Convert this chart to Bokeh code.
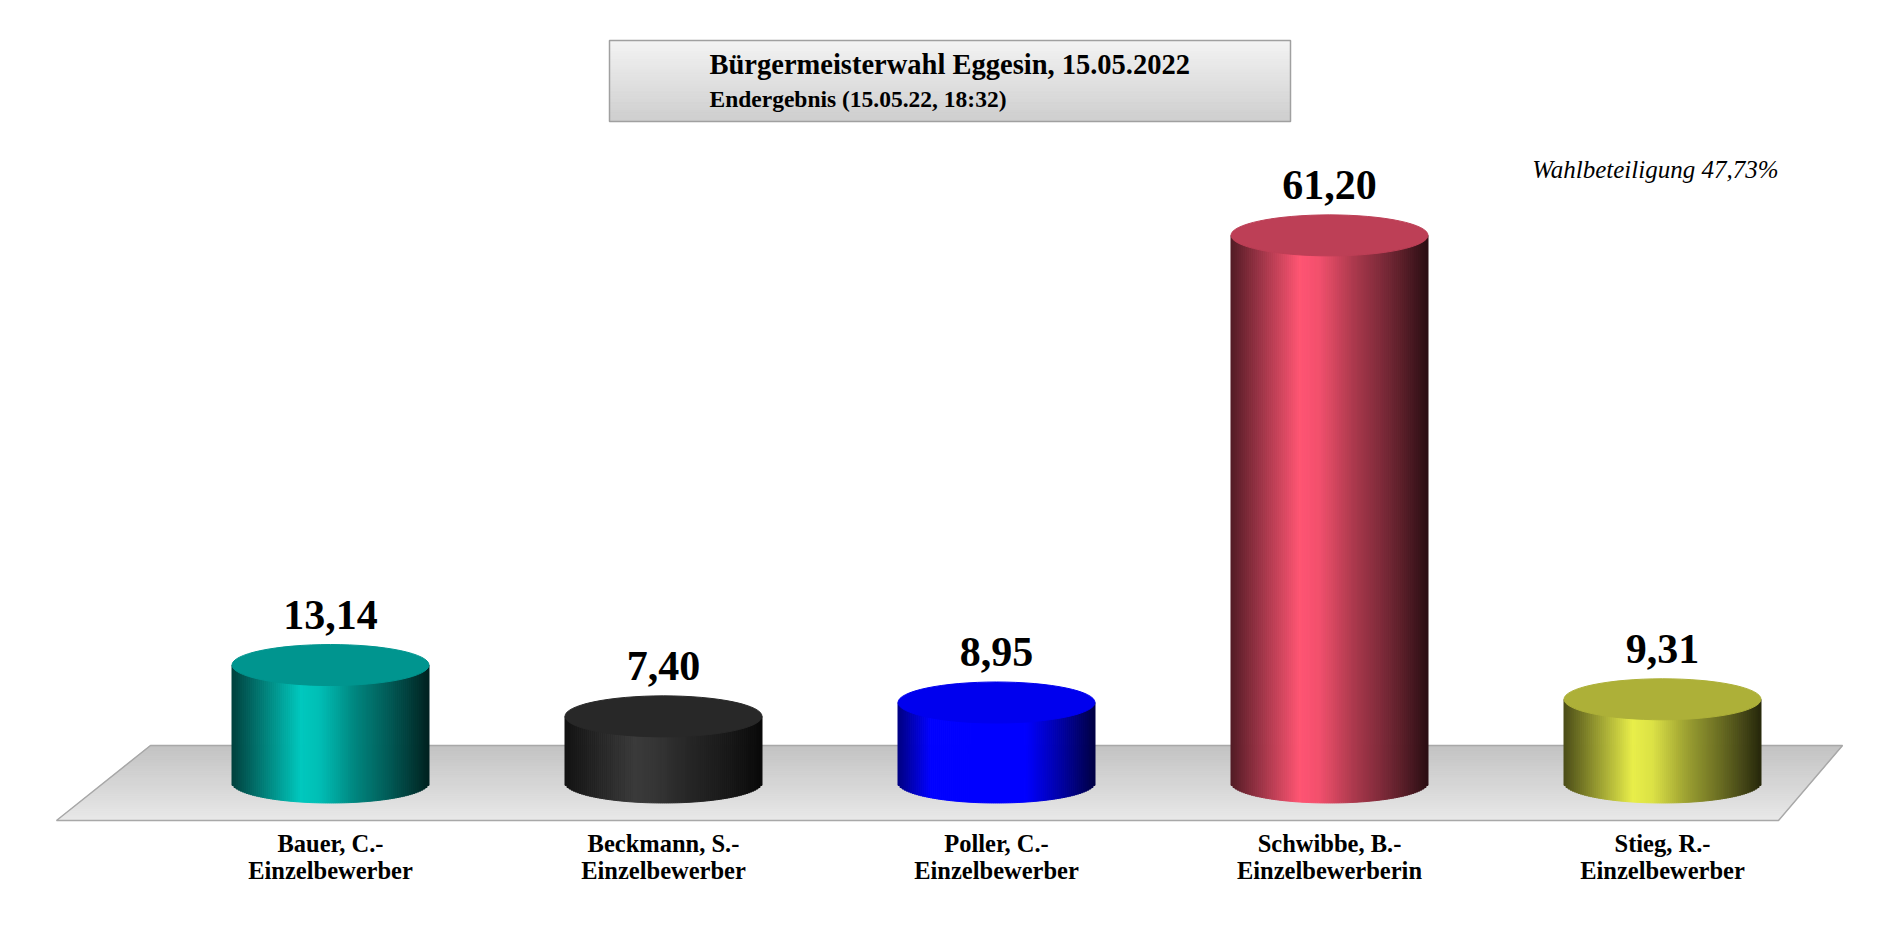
import numpy as np
from bokeh.plotting import figure
from bokeh.models import Range1d
from bokeh.embed import file_html
from bokeh.resources import INLINE
from bokeh.core.properties import value

# ---------------- data ----------------
candidates = ["Bauer, C.-", "Beckmann, S.-", "Poller, C.-", "Schwibbe, B.-", "Stieg, R.-"]
groups = ["Einzelbewerber", "Einzelbewerber", "Einzelbewerber", "Einzelbewerberin", "Einzelbewerber"]
shares = [13.14, 7.40, 8.95, 61.20, 9.31]
value_labels = ["13,14", "7,40", "8,95", "61,20", "9,31"]
title_text = "Bürgermeisterwahl Eggesin, 15.05.2022"
subtitle_text = "Endergebnis (15.05.22, 18:32)"
turnout_text = "Wahlbeteiligung 47,73%"

# bright side colour (r, g, b) and top colour for each cylinder
side_colors = [(0, 200, 190), (58, 58, 58), (0, 0, 400), (255, 85, 115), (232, 238, 74)]
top_colors = ["#00958f", "#282828", "#0000ee", "#bd3f56", "#adb038"]

# ---------------- layout ----------------
W, H = 1884, 916
PX_X = 333.0      # pixels per category step
PX_Y = 8.94       # pixels per percent
CX0 = 330.0       # canvas x of first category centre
CY0 = 782.0       # canvas y of the 0 % baseline

def ux(cx):
    return (cx - CX0) / PX_X

def uy(cy):
    return (CY0 - cy) / PX_Y

p = figure(width=W, height=H, output_backend="svg", toolbar_location=None,
           x_range=Range1d(ux(0), ux(W)), y_range=Range1d(uy(H), uy(0)),
           min_border=0, min_border_left=0, min_border_right=0,
           min_border_top=0, min_border_bottom=0)
p.xaxis.visible = False
p.yaxis.visible = False
p.grid.visible = False
p.outline_line_color = None
p.background_fill_color = "white"
p.border_fill_color = "white"

def hexc(rgb):
    r, g, b = [int(max(0, min(255, round(c)))) for c in rgb]
    return "#%02x%02x%02x" % (r, g, b)

def lerp_col(c1, c2, t):
    return tuple(a + (b - a) * t for a, b in zip(c1, c2))

n = len(shares)
FONT = value("Liberation Serif")

# ---------------- floor ----------------
back_cy, front_cy = 745.0, 820.0
back_l, back_r = 150.0, 1842.0
front_l, front_r = 56.0, 1778.0
NF = 40
for k in range(NF):
    t0, t1 = k / NF, (k + 1) / NF
    cy0 = back_cy + (front_cy - back_cy) * t0
    cy1 = back_cy + (front_cy - back_cy) * t1
    l0 = back_l + (front_l - back_l) * t0
    l1 = back_l + (front_l - back_l) * t1
    r0 = back_r + (front_r - back_r) * t0
    r1 = back_r + (front_r - back_r) * t1
    col = hexc(lerp_col((194, 194, 194), (232, 232, 232), (t0 + t1) / 2))
    p.patch([ux(l0), ux(r0), ux(r1), ux(l1)], [uy(cy0), uy(cy0), uy(cy1), uy(cy1)],
            fill_color=col, line_color=col, line_width=1)
p.patch([ux(back_l), ux(back_r), ux(front_r), ux(front_l)],
        [uy(back_cy), uy(back_cy), uy(front_cy), uy(front_cy)],
        fill_color=None, line_color="#a8a8a8", line_width=1.5)

# ---------------- cylinders ----------------
cyl_w = 197.0 / PX_X
ell_b = 20.5 / PX_Y
tp = [0.0, 0.12, 0.35, 0.45, 0.62, 0.80, 1.0]
fp = [0.32, 0.55, 1.0, 0.95, 0.68, 0.45, 0.17]
NS = 98
for i, v in enumerate(shares):
    base = side_colors[i]
    lefts, rights, tops, bottoms, cols = [], [], [], [], []
    dw = cyl_w / NS
    for k in range(NS):
        xl = i - cyl_w / 2 + k * dw
        xc = xl + dw / 2
        u = 2 * (xc - i) / cyl_w
        t = (k + 0.5) / NS
        f = np.interp(t, tp, fp)
        cols.append(hexc(tuple(c * f for c in base)))
        lefts.append(xl)
        rights.append(xl + dw)
        tops.append(v)
        bottoms.append(-ell_b * np.sqrt(max(0.0, 1 - u * u)))
    p.quad(left=lefts, right=rights, top=tops, bottom=bottoms,
           fill_color=cols, line_color=cols, line_width=1)

p.ellipse(x=list(range(n)), y=shares, width=cyl_w, height=2 * ell_b,
          fill_color=top_colors, line_color=top_colors, line_width=1)

# value labels
p.text(x=list(range(n)), y=[v + 50.0 / PX_Y for v in shares], text=value_labels,
       text_font=FONT, text_font_style="bold",
       text_font_size="42px", text_align="center", text_baseline="alphabetic",
       text_color="black")

# category labels
p.text(x=list(range(n)), y=[uy(843)] * n, text=candidates,
       text_font=FONT, text_font_style="bold",
       text_font_size="24.5px", text_align="center", text_baseline="alphabetic",
       text_color="black")
p.text(x=list(range(n)), y=[uy(870)] * n, text=groups,
       text_font=FONT, text_font_style="bold",
       text_font_size="24.5px", text_align="center", text_baseline="alphabetic",
       text_color="black")

# ---------------- title box ----------------
bx_l, bx_r, bx_t, bx_b = 609.0, 1290.0, 40.0, 121.0
NB = 30
for k in range(NB):
    t0, t1 = k / NB, (k + 1) / NB
    cy0 = bx_t + (bx_b - bx_t) * t0
    cy1 = bx_t + (bx_b - bx_t) * t1
    col = hexc(lerp_col((244, 244, 244), (206, 206, 206), (t0 + t1) / 2))
    p.quad(left=[ux(bx_l)], right=[ux(bx_r)], top=[uy(cy0)], bottom=[uy(cy1)],
           fill_color=col, line_color=col, line_width=1)
p.quad(left=[ux(bx_l)], right=[ux(bx_r)], top=[uy(bx_t)], bottom=[uy(bx_b)],
       fill_color=None, line_color="#a0a0a0", line_width=1.5)

p.text(x=[ux(709)], y=[uy(64)], text=[title_text],
       text_font=FONT, text_font_style="bold",
       text_font_size="28.5px", text_align="left", text_baseline="alphabetic",
       text_color="black")
p.text(x=[ux(709)], y=[uy(98.5)], text=[subtitle_text],
       text_font=FONT, text_font_style="bold",
       text_font_size="23.5px", text_align="left", text_baseline="alphabetic",
       text_color="black")

p.text(x=[ux(1778)], y=[uy(169)], text=[turnout_text],
       text_font=FONT, text_font_style="italic",
       text_font_size="25px", text_align="right", text_baseline="alphabetic",
       text_color="black")

open("out.html", "w").write(file_html(p, INLINE))
